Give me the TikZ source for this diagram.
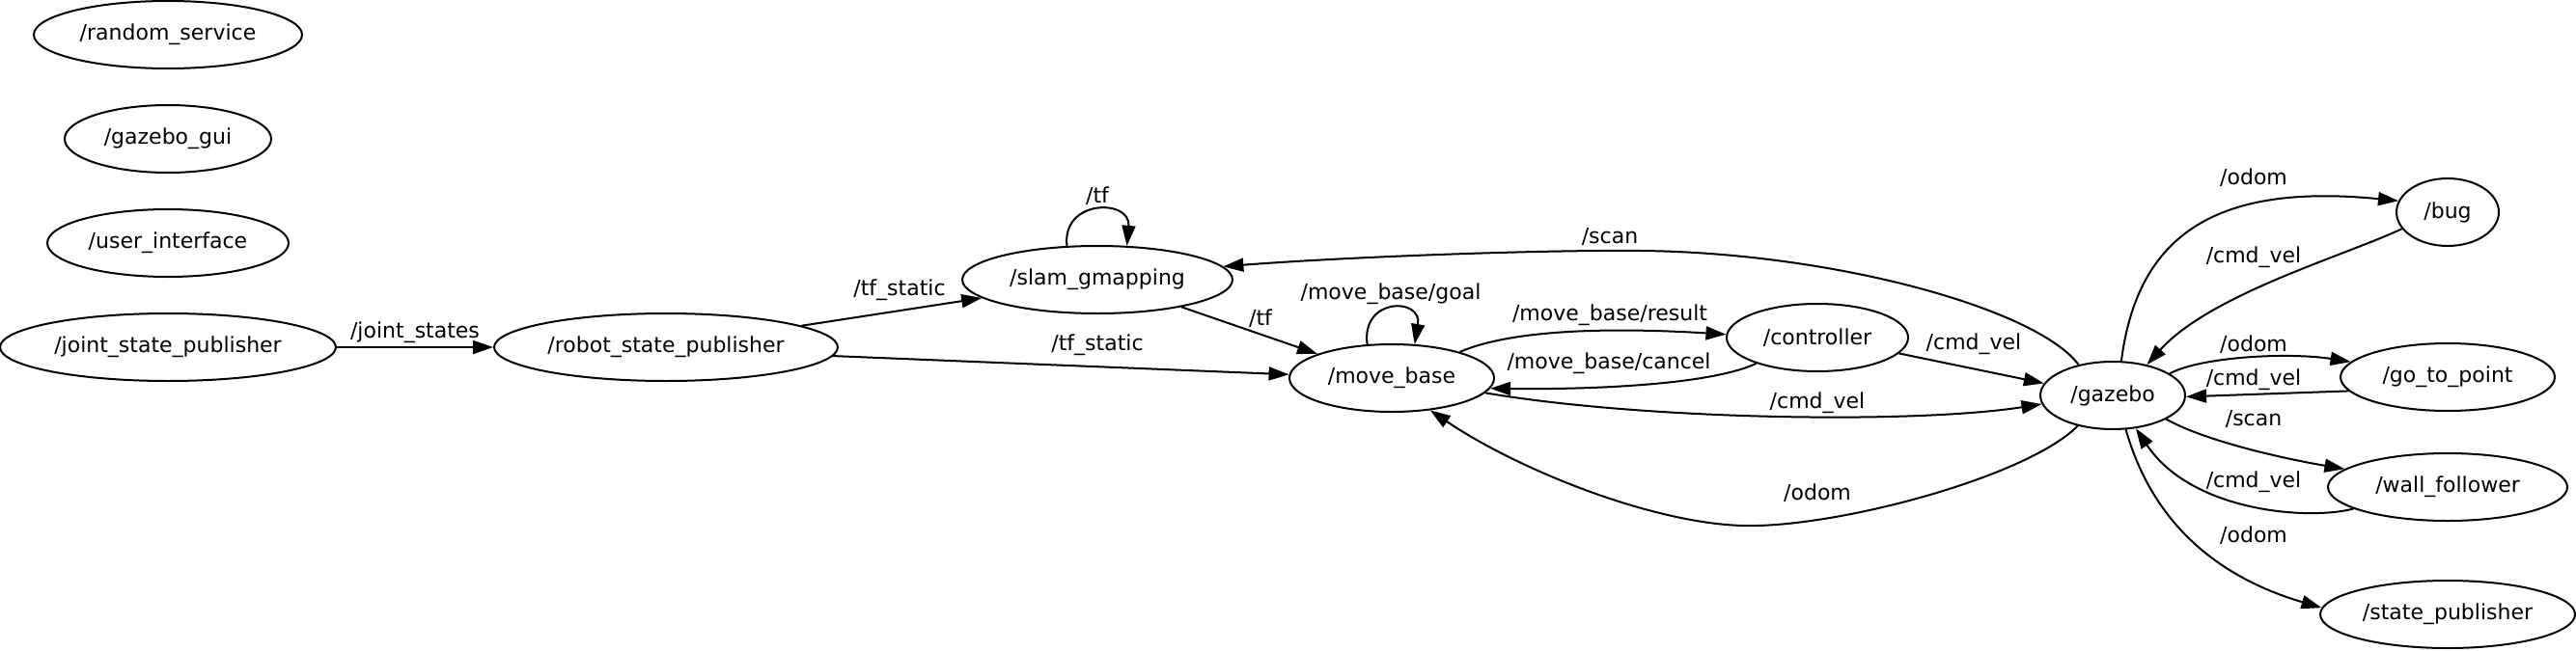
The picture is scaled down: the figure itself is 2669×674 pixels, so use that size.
\documentclass[tikz,border=0pt]{standalone}
\usepackage{fontspec}
\setmainfont{DejaVu Sans}
\usetikzlibrary{arrows.meta,shapes.geometric}
\begin{document}
\begin{tikzpicture}[x=0.5pt,y=-0.5pt,
  nd/.style={draw, ellipse, line width=1pt, inner sep=0pt, minimum height=35pt, font=\fontsize{11}{13}\selectfont},
  lbl/.style={inner sep=0pt, font=\fontsize{11}{13}\selectfont},
  arr/.style={line width=1pt, -{Triangle[length=10.5pt,width=7pt]}}]
\useasboundingbox (0,0) rectangle (2669,674);
% nodes
\node[nd, minimum width=139pt] (rs)   at (174,36)   {/random\_service};
\node[nd, minimum width=107pt] (gg)   at (174,144)  {/gazebo\_gui};
\node[nd, minimum width=125pt] (ui)   at (174,252)  {/user\_interface};
\node[nd, minimum width=174pt] (jsp)  at (174,360)  {/joint\_state\_publisher};
\node[nd, minimum width=178pt] (rsp)  at (690,360)  {/robot\_state\_publisher};
\node[nd, minimum width=140pt] (slam) at (1137,290) {/slam\_gmapping};
\node[nd, minimum width=106pt] (mb)   at (1442,392) {/move\_base};
\node[nd, minimum width=94pt]  (ctrl) at (1883,350) {/controller};
\node[nd, minimum width=75pt]  (gz)   at (2189,410) {/gazebo};
\node[nd, minimum width=53pt]  (bug)  at (2536,220) {/bug};
\node[nd, minimum width=111pt] (gtp)  at (2536,391) {/go\_to\_point};
\node[nd, minimum width=124pt] (wf)   at (2536,505) {/wall\_follower};
\node[nd, minimum width=132pt] (sp)   at (2536,637) {/state\_publisher};
% edges
\draw[arr] (jsp) -- (rsp);
\draw[arr] (rsp.9) -- (slam.189);
\draw[arr] (rsp.-3) -- (mb.178);
\draw[arr] (slam.-18) -- (mb.162);
\draw[arr] (slam.132) .. controls (1100,206) and (1172,206) .. (slam.49);
\draw[arr] (mb.126) .. controls (1410,308) and (1474,308) .. (mb.56);
\draw[arr] (mb.21) .. controls (1570,340) and (1680,340) .. (ctrl.178);
\draw[arr] (ctrl.203) .. controls (1770,400) and (1640,404) .. (mb.354);
\draw[arr] (ctrl.-11) -- (gz.170);
\draw[arr] (mb.-9) .. controls (1700,435) and (1980,440) .. (gz.187);
\draw[arr] (gz.221) .. controls (2100,495) and (1900,548) .. (1805,545)
  .. controls (1710,542) and (1573,487) .. (mb.320);
\draw[arr] (gz.138) .. controls (2110,320) and (1900,262) .. (1700,260)
  .. controls (1600,259) and (1400,266) .. (slam.6);
\draw[arr] (gz.76) .. controls (2215,240) and (2300,190) .. (bug.167);
\draw[arr] (bug.200) .. controls (2430,265) and (2290,305) .. (gz.42);
\draw[arr] (gz.21) .. controls (2280,370) and (2370,365) .. (gtp.171);
\draw[arr] (gtp.188) -- (gz.-1);
\draw[arr] (gz.-24) .. controls (2290,460) and (2380,478) .. (wf.170);
\draw[arr] (wf.193) .. controls (2390,540) and (2270,530) .. (gz.-55);
\draw[arr] (gz.-69) .. controls (2235,560) and (2320,605) .. (sp.177);
% labels
\node[lbl] (l1)  at (430,345)  {/joint\_states};
\node[lbl] (l2)  at (932,301)  {/tf\_static};
\node[lbl] (l3)  at (1137,358) {/tf\_static};
\node[lbl] (l4)  at (1137,203) {/tf};
\node[lbl] (l5)  at (1306,330) {/tf};
\node[lbl] (l6)  at (1668,245) {/scan};
\node[lbl] (l7)  at (1441,305) {/move\_base/goal};
\node[lbl] (l8)  at (1668,327) {/move\_base/result};
\node[lbl] (l9)  at (1667,377) {/move\_base/cancel};
\node[lbl] (l10) at (2045,357) {/cmd\_vel};
\node[lbl] (l11) at (1883,418) {/cmd\_vel};
\node[lbl] (l12) at (1883,511) {/odom};
\node[lbl] (l13) at (2335,184) {/odom};
\node[lbl] (l14) at (2335,267) {/cmd\_vel};
\node[lbl] (l15) at (2335,357) {/odom};
\node[lbl] (l16) at (2335,394) {/cmd\_vel};
\node[lbl] (l17) at (2335,434) {/scan};
\node[lbl] (l18) at (2335,500) {/cmd\_vel};
\node[lbl] (l19) at (2335,555) {/odom};
\end{tikzpicture}
\end{document}
